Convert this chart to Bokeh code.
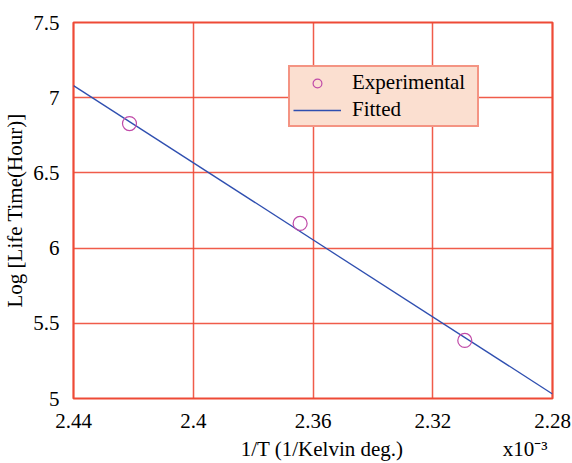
from bokeh.plotting import figure
from bokeh.models import Range1d, FixedTicker, Legend, LegendItem
from bokeh.embed import file_html
from bokeh.resources import INLINE

# ---- data ----
x_exp = [2.4213, 2.3643, 2.3093]
y_exp = [6.828, 6.164, 5.386]
x_fit = [2.44, 2.28]
y_fit = [7.08, 5.03]
x_ticks = [2.44, 2.40, 2.36, 2.32, 2.28]
x_tick_labels = ["2.44", "2.4", "2.36", "2.32", "2.28"]
y_ticks = [5.0, 5.5, 6.0, 6.5, 7.0, 7.5]
y_tick_labels = ["5", "5.5", "6", "6.5", "7", "7.5"]
x_label = "1/T (1/Kelvin deg.)"
y_label = "Log [Life Time(Hour)]"
x_scale_note = "x10\u207b\u00b3"

FONT = "Liberation Serif"
RED = "#ee4a36"
NBSP = "\u00a0"

p = figure(width=572, height=463, output_backend="svg", toolbar_location=None,
           x_range=Range1d(x_ticks[0], x_ticks[-1]),
           y_range=Range1d(y_ticks[0], y_ticks[-1]),
           min_border_left=72, min_border_right=20, min_border_top=22, min_border_bottom=65,
           background_fill_color="white", border_fill_color="white")

p.outline_line_color = RED
p.outline_line_width = 2.2

for g in (p.xgrid, p.ygrid):
    g.grid_line_color = RED
    g.grid_line_width = 1.5
    g.grid_line_alpha = 0.9

p.xaxis.ticker = FixedTicker(ticks=x_ticks)
p.yaxis.ticker = FixedTicker(ticks=y_ticks)
p.xaxis.major_label_overrides = {t: s for t, s in zip(x_ticks, x_tick_labels)}
p.yaxis.major_label_overrides = {t: s for t, s in zip(y_ticks, y_tick_labels)}

for ax in (p.xaxis[0], p.yaxis[0]):
    ax.axis_line_color = None
    ax.major_tick_line_color = None
    ax.minor_tick_line_color = None
    ax.major_label_text_font = FONT
    ax.major_label_text_font_size = "21px"
    ax.major_label_text_color = "black"
    ax.axis_label_text_font = FONT
    ax.axis_label_text_font_size = "21px"
    ax.axis_label_text_font_style = "normal"
    ax.axis_label_text_color = "black"

# x-axis title plus the x10^-3 scale note on the same line (padded so the
# title sits slightly right of centre and the note ends under the right edge)
p.xaxis.axis_label = NBSP * 31 + x_label + NBSP * 19 + x_scale_note
p.yaxis.axis_label = y_label
p.xaxis.major_label_standoff = 9
p.xaxis.axis_label_standoff = 6
p.yaxis.major_label_standoff = 8
p.yaxis.axis_label_standoff = 3

fit = p.line(x_fit, y_fit, line_color="#2f4fb0", line_width=1.3)
exp = p.scatter(x_exp, y_exp, marker="circle", size=14, fill_color=None,
                line_color="#c04aa8", line_width=1.2)

legend = Legend(items=[LegendItem(label="Experimental", renderers=[exp]),
                       LegendItem(label="Fitted", renderers=[fit])],
                location=(215, 271),
                background_fill_color="#fbdfd0", background_fill_alpha=1.0,
                border_line_color=RED, border_line_width=2.2,
                label_text_font=FONT, label_text_font_size="21px",
                label_text_color="black",
                glyph_width=48, glyph_height=22, label_height=22, label_width=122,
                label_standoff=11, padding=3, spacing=2, margin=0)
p.add_layout(legend, "center")

open("out.html", "w").write(file_html(p, INLINE))
